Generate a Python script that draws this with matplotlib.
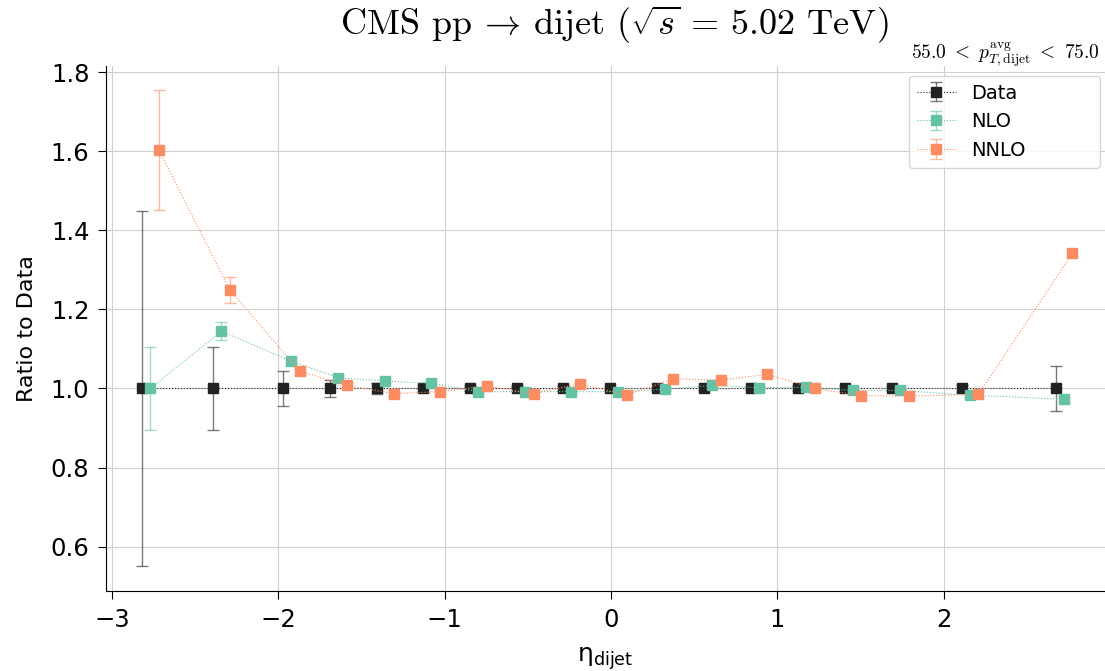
import matplotlib
matplotlib.use("Agg")
import matplotlib.pyplot as plt
import numpy as np

# eta_dijet bin centres (data), theory points are shifted slightly for visibility
eta = [-2.818, -2.392, -1.971, -1.689, -1.406, -1.130, -0.847, -0.565, -0.288,
       -0.006, 0.276, 0.559, 0.841, 1.124, 1.406, 1.689, 2.109, 2.674]

data_ratio = [1.0] * 18
data_err = [0.45, 0.105, 0.044, 0.021, 0.015, 0.008, 0.006, 0.006, 0.006,
            0.005, 0.005, 0.005, 0.005, 0.006, 0.006, 0.006, 0.008, 0.057]

nlo_ratio = [1.000, 1.145, 1.069, 1.027, 1.019, 1.013, 0.992, 0.992, 0.992,
             0.992, 0.998, 1.008, 1.002, 1.003, 0.995, 0.995, 0.983, 0.973]
nlo_err = [0.105, 0.023, 0.010, 0.006, 0.005, 0.004, 0.004, 0.004, 0.004,
           0.004, 0.004, 0.004, 0.004, 0.004, 0.004, 0.004, 0.005, 0.006]

nnlo_ratio = [1.604, 1.250, 1.044, 1.008, 0.987, 0.992, 1.006, 0.987, 1.012,
              0.983, 1.025, 1.021, 1.036, 1.000, 0.982, 0.981, 0.985, 1.342]
nnlo_err = [0.152, 0.033, 0.010, 0.006, 0.005, 0.005, 0.005, 0.005, 0.005,
            0.005, 0.005, 0.005, 0.005, 0.005, 0.005, 0.005, 0.006, 0.010]

series = [
    ("Data", data_ratio, data_err, "#222222", 0.0),
    ("NLO", nlo_ratio, nlo_err, "#66c2a5", 0.05),
    ("NNLO", nnlo_ratio, nnlo_err, "#fc8d62", 0.10),
]

fig = plt.figure(figsize=(11.05, 6.71), dpi=100)
ax = fig.add_axes([0.096, 0.119, 0.904, 0.783])

for name, y, err, color, shift in series:
    x = np.array(eta) + shift
    cont = ax.errorbar(x, y, yerr=err, fmt="s", ls=":", lw=0.8, color=color,
                       ms=7, capsize=4, elinewidth=1.0, label=name, zorder=3)
    for bar in cont[2]:
        bar.set_alpha(0.6)
    for cap in cont[1]:
        cap.set_alpha(0.6)

ax.set_xlim(-3.035, 2.97)
ax.set_ylim(0.487, 1.817)
ax.grid(True, color="#d0d0d0", lw=0.8)
ax.set_axisbelow(True)
for s in ["top", "right"]:
    ax.spines[s].set_visible(False)
ax.tick_params(labelsize=17.5, length=6, pad=6)

ax.set_xlabel(r"$\mathregular{\eta_{dijet}}$", fontsize=18, labelpad=10)
ax.set_ylabel("Ratio to Data", fontsize=16, labelpad=10)
ax.set_title(r"CMS pp $\!\rightarrow\!$ dijet ($\sqrt{s}$ = 5.02 TeV)",
             fontsize=26, pad=22, x=0.509, family="cmr10", math_fontfamily="cm")

ax.legend(loc="upper right", fontsize=14, mode="expand", borderaxespad=0,
          bbox_to_anchor=(0.804, 0.0, 0.191, 0.981))
ax.text(0.995, 0.993, r"$55.0\ <\ p_{T,\mathrm{dijet}}^{\mathrm{avg}}\ <\ 75.0$",
        transform=ax.transAxes, ha="right", va="bottom", fontsize=14,
        family="cmr10", math_fontfamily="cm")

fig.savefig("out.png", dpi=100)
